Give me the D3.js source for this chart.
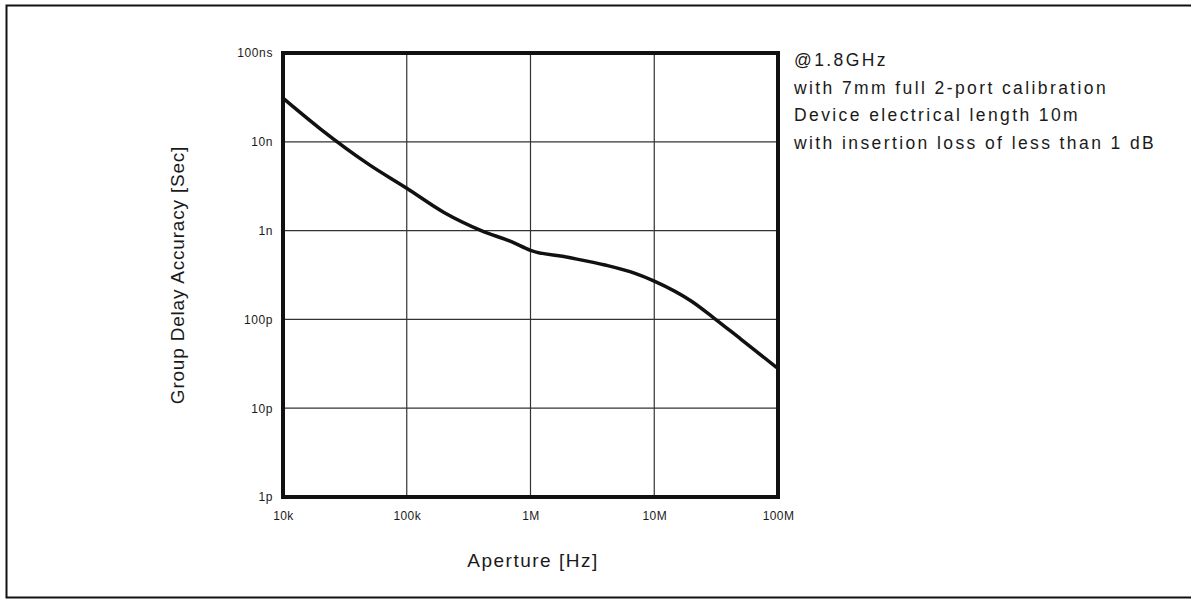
<!DOCTYPE html>
<html><head><meta charset="utf-8">
<script src="https://cdn.jsdelivr.net/npm/d3@7"></script>
<style>body{margin:0;background:#fff}svg{display:block}text{font-family:"Liberation Sans","DejaVu Sans",sans-serif;fill:#1a1a1a}</style>
</head><body><svg id="c" width="1191" height="603"></svg>
<script>
const xTicks = [1e4, 1e5, 1e6, 1e7, 1e8];
const xTickLabels = ["10k", "100k", "1M", "10M", "100M"];
const yTicks = [1e-12, 1e-11, 1e-10, 1e-9, 1e-8, 1e-7];
const yTickLabels = ["1p", "10p", "100p", "1n", "10n", "100ns"];
const aperture = [1e4, 2e4, 5e4, 1e5, 2e5, 4e5, 7e5, 1e6, 2e6, 4e6, 7e6, 1e7, 2e7, 3e7, 5e7, 1e8];
const accuracy = [31e-9, 14e-9, 5.5e-9, 3.0e-9, 1.6e-9, 1.0e-9, 0.75e-9, 0.6e-9, 0.5e-9, 0.41e-9, 0.33e-9, 0.27e-9, 0.16e-9, 0.105e-9, 0.06e-9, 0.028e-9];
const notes = ["@1.8GHz", "with 7mm full 2-port calibration", "Device electrical length 10m", "with insertion loss of less than 1 dB"];

const svg = d3.select("#c");
const L = 283, R = 778, T = 53, B = 497;
const x = d3.scaleLog().domain([1e4, 1e8]).range([L, R]);
const y = d3.scaleLog().domain([1e-12, 1e-7]).range([B, T]);

// outer frame
svg.append("path").attr("d", "M1191,5.5 H6.5 V597.5 H1191").attr("fill", "none").attr("stroke", "#111").attr("stroke-width", 2);

// grid
const g = svg.append("g");
g.selectAll(".gx").data(xTicks.slice(1, -1)).join("line")
  .attr("x1", d => x(d)).attr("x2", d => x(d)).attr("y1", T).attr("y2", B)
  .attr("stroke", "#333").attr("stroke-width", 1.2);
g.selectAll(".gy").data(yTicks.slice(1, -1)).join("line")
  .attr("y1", d => y(d)).attr("y2", d => y(d)).attr("x1", L).attr("x2", R)
  .attr("stroke", "#333").attr("stroke-width", 1.2);

// axes labels via d3 axes
const xAxis = d3.axisBottom(x).tickValues(xTicks).tickFormat((d, i) => xTickLabels[i]).tickSize(0).tickPadding(14);
const xa = svg.append("g").attr("transform", `translate(0,${B})`).call(xAxis);
xa.select(".domain").remove();
xa.selectAll("text").attr("font-size", 12).attr("font-family", "Liberation Sans").attr("letter-spacing", 0.4).attr("fill", "#1a1a1a");

const yAxis = d3.axisLeft(y).tickValues(yTicks).tickFormat((d, i) => yTickLabels[i]).tickSize(0).tickPadding(10);
const ya = svg.append("g").attr("transform", `translate(${L},0)`).call(yAxis);
ya.select(".domain").remove();
ya.selectAll("text").attr("font-size", 12).attr("font-family", "Liberation Sans").attr("letter-spacing", 0.6).attr("fill", "#1a1a1a");

// curve
const line = d3.line().x((d, i) => x(aperture[i])).y(d => y(d)).curve(d3.curveMonotoneX);
svg.append("path").datum(accuracy).attr("d", line).attr("fill", "none")
  .attr("stroke", "#111").attr("stroke-width", 3.5).attr("stroke-linejoin", "round");

// plot frame
svg.append("rect").attr("x", L).attr("y", T).attr("width", R - L).attr("height", B - T)
  .attr("fill", "none").attr("stroke", "#111").attr("stroke-width", 4);

// titles
svg.append("text").attr("x", 533).attr("y", 567).attr("text-anchor", "middle")
  .attr("font-size", 19).attr("letter-spacing", 1.5).text("Aperture [Hz]");
svg.append("text").attr("transform", `translate(184,${(T + B) / 2}) rotate(-90)`).attr("text-anchor", "middle")
  .attr("font-size", 19).attr("letter-spacing", 0.8).text("Group Delay Accuracy [Sec]");

// notes
svg.append("g").selectAll("text").data(notes).join("text")
  .attr("x", 794).attr("y", (d, i) => 66 + i * 27.5).attr("font-size", 17.5).attr("letter-spacing", 2.4).text(d => d);
</script></body></html>
